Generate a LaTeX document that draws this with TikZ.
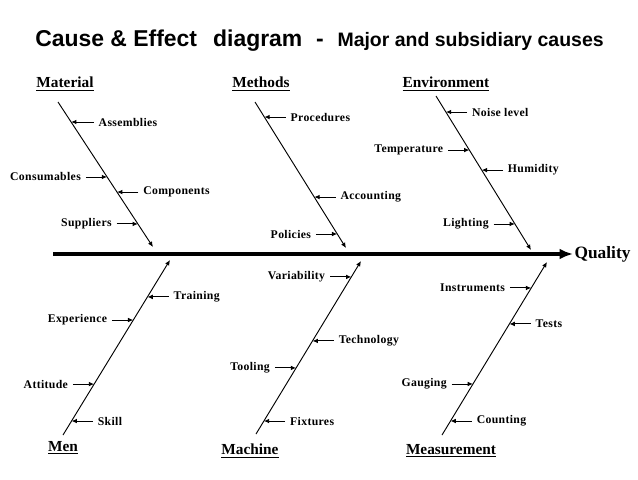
\documentclass[tikz,border=0pt]{standalone}
\usepackage{fontspec}
\setmainfont{Liberation Serif}
\newfontfamily\titlefont{Liberation Sans}
\usetikzlibrary{calc,positioning,arrows.meta}

\tikzset{
  cause/.style={font=\bfseries\fontsize{8.8}{10}\selectfont\addfontfeature{LetterSpace=3}, inner sep=3.5pt},
  head/.style={font=\bfseries\fontsize{11.5}{13}\selectfont, inner sep=1pt},
  bone/.style={line width=0.7pt, -{Latex[length=4pt,width=3.5pt]}},
  sub/.style={line width=0.7pt, -{Latex[length=4pt,width=3.5pt]}},
  spine/.style={line width=3pt, -{Latex[length=10pt,width=8pt]}}
}

\begin{document}
\begin{tikzpicture}[x=0.75pt, y=-0.75pt]
    \useasboundingbox (0,0) rectangle (638,479);

    % Title
    \node[anchor=base west, inner sep=0pt] (title) at (35,46)
        {\titlefont\bfseries\fontsize{17.2}{20}\selectfont Cause \& Effect\hspace{0.7em}diagram\hspace{0.6em}-\hspace{0.6em}\fontsize{14.6}{17}\selectfont Major and subsidiary causes};

    % Spine and effect
    \coordinate[] (S) at (53,254);
    \node[anchor=west, inner sep=1pt, font=\bfseries\fontsize{13}{15}\selectfont] (Q) at (573,254) {Quality};
    \draw[spine] (S) -- (Q.west);

    % Material
    \coordinate[] (MatS) at (58,102);
    \coordinate[] (MatE) at (153,247);
    \node[head] (Mat) at (65,84) {\underline{Material}};
    \draw[bone] (MatS) -- (MatE);
    \coordinate[] (m1) at ($(MatS)!0.138!(MatE)$);
    \coordinate[] (m2) at ($(MatS)!0.517!(MatE)$);
    \coordinate[] (m3) at ($(MatS)!0.621!(MatE)$);
    \coordinate[] (m4) at ($(MatS)!0.841!(MatE)$);
    \node[cause, right=17pt of m1] (asm) {Assemblies};
    \node[cause, left=16pt of m2] (con) {Consumables};
    \node[cause, right=16pt of m3] (com) {Components};
    \node[cause, left=16pt of m4] (sup) {Suppliers};
    \draw[sub] (asm) -- (m1);
    \draw[sub] (con) -- (m2);
    \draw[sub] (com) -- (m3);
    \draw[sub] (sup) -- (m4);

    % Methods
    \coordinate[] (MetS) at (255,102);
    \coordinate[] (MetE) at (346,248);
    \node[head] (Met) at (261,84) {\underline{Methods}};
    \draw[bone] (MetS) -- (MetE);
    \coordinate[] (t1) at ($(MetS)!0.103!(MetE)$);
    \coordinate[] (t2) at ($(MetS)!0.651!(MetE)$);
    \coordinate[] (t3) at ($(MetS)!0.904!(MetE)$);
    \node[cause, right=16pt of t1] (pro) {Procedures};
    \node[cause, right=16pt of t2] (acc) {Accounting};
    \node[cause, left=16pt of t3] (pol) {Policies};
    \draw[sub] (pro) -- (t1);
    \draw[sub] (acc) -- (t2);
    \draw[sub] (pol) -- (t3);

    % Environment
    \coordinate[] (EnvS) at (436,96);
    \coordinate[] (EnvE) at (531,250);
    \node[head] (Env) at (446,84) {\underline{Environment}};
    \draw[bone] (EnvS) -- (EnvE);
    \coordinate[] (e1) at ($(EnvS)!0.104!(EnvE)$);
    \coordinate[] (e2) at ($(EnvS)!0.351!(EnvE)$);
    \coordinate[] (e3) at ($(EnvS)!0.481!(EnvE)$);
    \coordinate[] (e4) at ($(EnvS)!0.831!(EnvE)$);
    \node[cause, right=16pt of e1] (noi) {Noise level};
    \node[cause, left=16pt of e2] (tem) {Temperature};
    \node[cause, right=16pt of e3] (hum) {Humidity};
    \node[cause, left=16pt of e4] (lig) {Lighting};
    \draw[sub] (noi) -- (e1);
    \draw[sub] (tem) -- (e2);
    \draw[sub] (hum) -- (e3);
    \draw[sub] (lig) -- (e4);

    % Men
    \coordinate[] (MenS) at (63,435);
    \coordinate[] (MenE) at (170,260);
    \node[head] (Men) at (63,448) {\underline{Men}};
    \draw[bone] (MenS) -- (MenE);
    \coordinate[] (n1) at ($(MenS)!0.789!(MenE)$);
    \coordinate[] (n2) at ($(MenS)!0.657!(MenE)$);
    \coordinate[] (n3) at ($(MenS)!0.291!(MenE)$);
    \coordinate[] (n4) at ($(MenS)!0.08!(MenE)$);
    \node[cause, right=16pt of n1] (tra) {Training};
    \node[cause, left=16pt of n2] (exp) {Experience};
    \node[cause, left=16pt of n3] (att) {Attitude};
    \node[cause, right=16pt of n4] (ski) {Skill};
    \draw[sub] (tra) -- (n1);
    \draw[sub] (exp) -- (n2);
    \draw[sub] (att) -- (n3);
    \draw[sub] (ski) -- (n4);

    % Machine
    \coordinate[] (MacS) at (256,434);
    \coordinate[] (MacE) at (361,261);
    \node[head] (Mac) at (250,451) {\underline{Machine}};
    \draw[bone] (MacS) -- (MacE);
    \coordinate[] (c1) at ($(MacS)!0.908!(MacE)$);
    \coordinate[] (c2) at ($(MacS)!0.538!(MacE)$);
    \coordinate[] (c3) at ($(MacS)!0.382!(MacE)$);
    \coordinate[] (c4) at ($(MacS)!0.075!(MacE)$);
    \node[cause, left=16pt of c1] (var) {Variability};
    \node[cause, right=16pt of c2] (tec) {Technology};
    \node[cause, left=16pt of c3] (too) {Tooling};
    \node[cause, right=16pt of c4] (fix) {Fixtures};
    \draw[sub] (var) -- (c1);
    \draw[sub] (tec) -- (c2);
    \draw[sub] (too) -- (c3);
    \draw[sub] (fix) -- (c4);

    % Measurement
    \coordinate[] (MeaS) at (442,435);
    \coordinate[] (MeaE) at (547,262);
    \node[head] (Mea) at (451,451) {\underline{Measurement}};
    \draw[bone] (MeaS) -- (MeaE);
    \coordinate[] (r1) at ($(MeaS)!0.85!(MeaE)$);
    \coordinate[] (r2) at ($(MeaS)!0.642!(MeaE)$);
    \coordinate[] (r3) at ($(MeaS)!0.295!(MeaE)$);
    \coordinate[] (r4) at ($(MeaS)!0.081!(MeaE)$);
    \node[cause, left=16pt of r1] (ins) {Instruments};
    \node[cause, right=16pt of r2] (tes) {Tests};
    \node[cause, left=16pt of r3] (gau) {Gauging};
    \node[cause, right=16pt of r4] (cou) {Counting};
    \draw[sub] (ins) -- (r1);
    \draw[sub] (tes) -- (r2);
    \draw[sub] (gau) -- (r3);
    \draw[sub] (cou) -- (r4);
\end{tikzpicture}
\end{document}
